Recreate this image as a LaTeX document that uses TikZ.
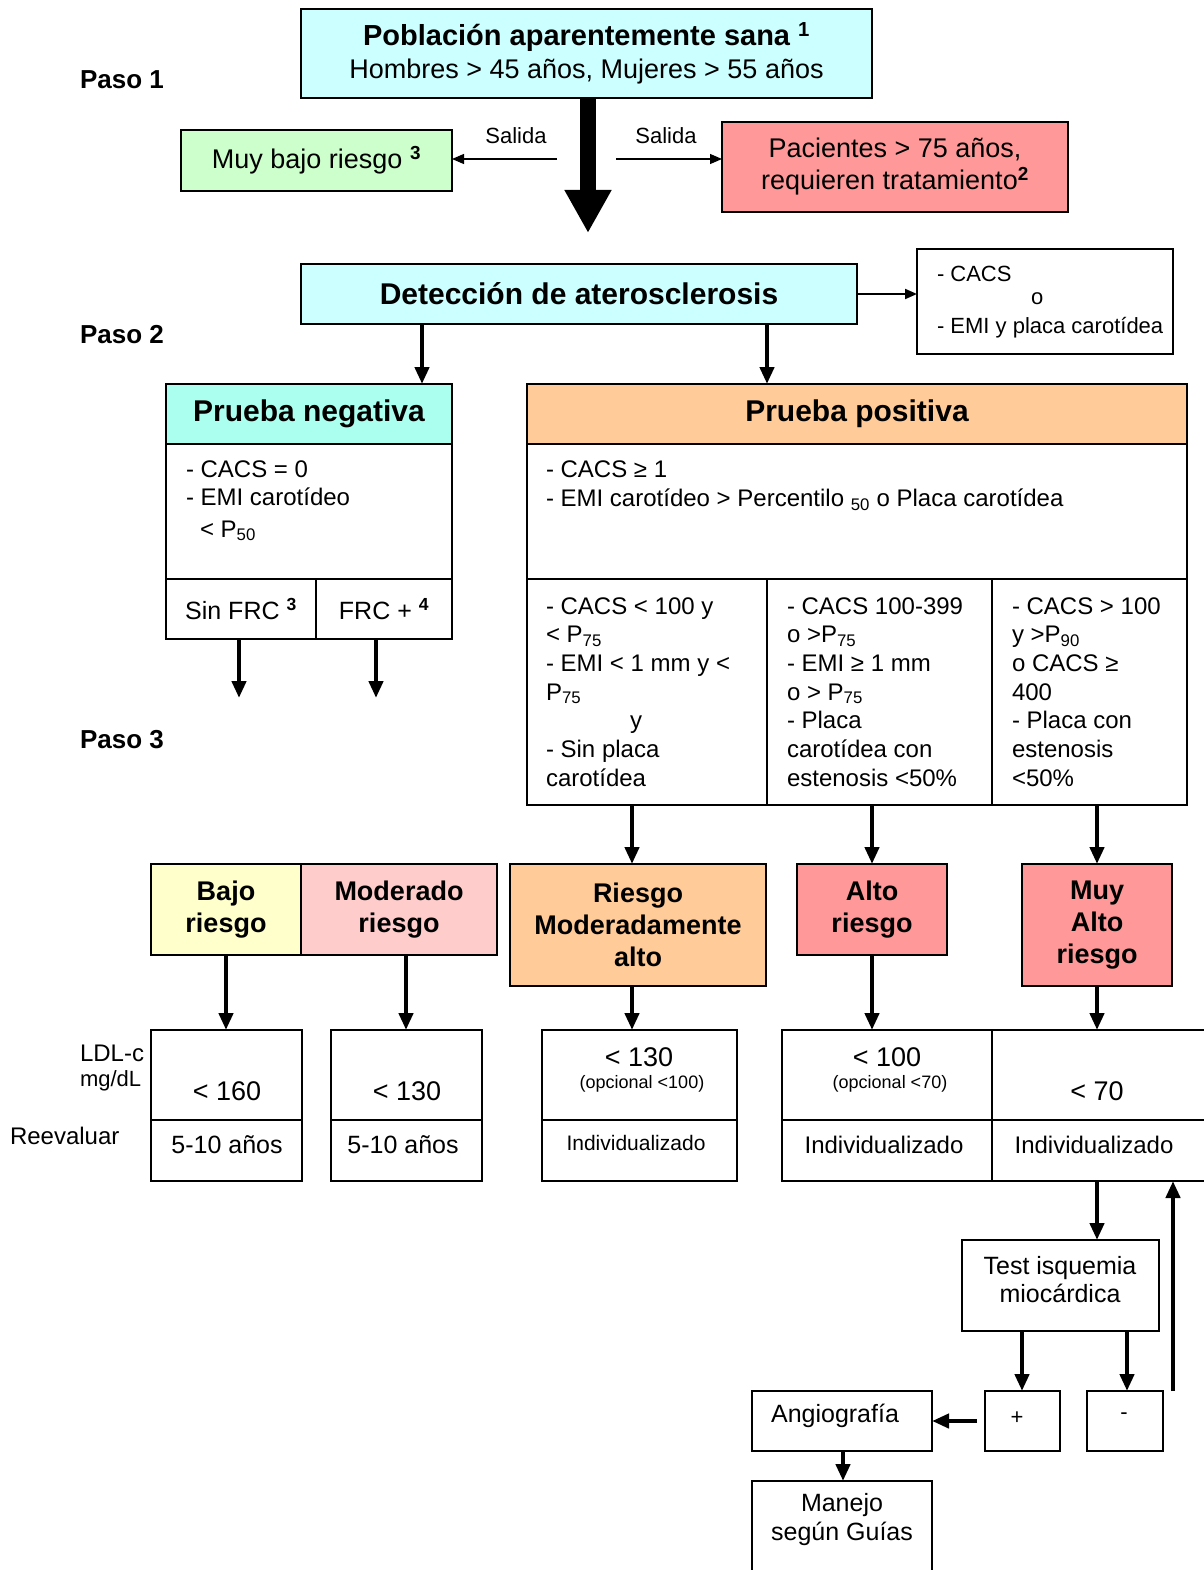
\documentclass[tikz,border=0pt]{standalone}
\usepackage{fontspec}
\setmainfont{Liberation Sans}
\usetikzlibrary{arrows.meta}
\newcommand{\myfs}[2]{\fontsize{#1}{#2}\selectfont}
\definecolor{cyanbg}{HTML}{CCFFFF}
\definecolor{greenbg}{HTML}{CCFFCC}
\definecolor{redbg}{HTML}{FF9999}
\definecolor{aquabg}{HTML}{AAFFEE}
\definecolor{orangebg}{HTML}{FFCC99}
\definecolor{yellowbg}{HTML}{FFFFCC}
\definecolor{pinkbg}{HTML}{FFCCCC}
\begin{document}
\begin{tikzpicture}[x=1pt,y=-1pt,
  box/.style={draw=black, line width=1.6pt, inner sep=0pt, outer sep=0pt, anchor=north west, align=center},
  arr/.style={line width=4.5pt, -{Triangle[length=17pt,width=14pt]}},
  tarr/.style={line width=1.2pt, -{Triangle[length=12pt,width=10pt]}},
  txt/.style={inner sep=0pt, outer sep=0pt},
  lbl/.style={inner sep=0pt, outer sep=0pt, anchor=base west},
  paso/.style={inner sep=0pt, outer sep=0pt, anchor=west, font=\bfseries\myfs{26}{30}},
  risk/.style={box, font=\bfseries\myfs{27}{32}},
]
\useasboundingbox (0,0) rectangle (1203,1570);

% helper x coordinates
\coordinate (bx) at (588,0);
\coordinate (x422) at (422,0);
\coordinate (x767) at (767,0);
\coordinate (x632) at (632,0);
\coordinate (x872) at (872,0);
\coordinate (x1097) at (1097,0);
\coordinate (x226) at (226,0);
\coordinate (x406) at (406,0);
\coordinate (x1022) at (1022,0);
\coordinate (x1127) at (1127,0);
\coordinate (x843) at (843,0);

% Step 1
\node[box, fill=cyanbg, minimum width=571pt, minimum height=89pt, font=\myfs{27}{33}] (pob) at (301,9)
  {{\bfseries\myfs{29}{33}Población aparentemente sana \textsuperscript{1}}\\Hombres > 45 años, Mujeres > 55 años};
\node[paso] (paso1) at (80,80) {Paso 1};
\node[box, fill=greenbg, minimum width=271pt, minimum height=61pt, font=\myfs{27}{32}] (mbr) at (181,130)
  {Muy bajo riesgo \textsuperscript{\bfseries 3}};
\node[box, fill=redbg, minimum width=346pt, minimum height=90pt, font=\myfs{27}{32}] (pac) at (722,122)
  {Pacientes > 75 años,\\requieren tratamiento\textsuperscript{\bfseries 2}};
\coordinate (bigend) at (588,233);
\draw[line width=16pt, -{Triangle[length=43pt,width=44pt]}] (pob.south -| bx) -- (bigend);
\coordinate (sl) at (557,159);
\coordinate (sr) at (616,159);
\draw[tarr] (sl) -- (sl -| mbr.east);
\draw[tarr] (sr) -- (sr -| pac.west);
\node[txt, font=\myfs{22}{26}] (sal1) at (516,136) {Salida};
\node[txt, font=\myfs{22}{26}] (sal2) at (666,136) {Salida};

% Step 2
\node[box, fill=cyanbg, minimum width=556pt, minimum height=60pt, font=\bfseries\myfs{30}{34}] (det) at (301,264)
  {Detección de aterosclerosis};
\node[box, minimum width=256pt, minimum height=105pt] (cacs) at (917,249) {};
\node[lbl, font=\myfs{22}{26}] (cacs1) at (937,281) {- CACS};
\node[lbl, font=\myfs{22}{26}] (cacs2) at (1031,304) {o};
\node[lbl, font=\myfs{22}{26}] (cacs3) at (937,333) {- EMI y placa carotídea};
\draw[line width=2pt, -{Triangle[length=12pt,width=10pt]}] (det.east) -- (det.east -| cacs.west);
\node[paso] (paso2) at (80,335) {Paso 2};

% Prueba negativa
\node[box, fill=aquabg, minimum width=286pt, minimum height=60pt, font=\bfseries\myfs{30}{34}] (neghead) at (166,384) {Prueba negativa};
\node[box, minimum width=286pt, minimum height=135pt] (negbody) at (166,444) {};
\node[box, minimum width=150pt, minimum height=60pt, font=\myfs{25}{30}] (sinfrc) at (166,579) {Sin FRC \textsuperscript{\bfseries 3}};
\node[box, minimum width=136pt, minimum height=60pt, font=\myfs{25}{30}] (frc) at (316,579) {FRC + \textsuperscript{\bfseries 4}};
\node[lbl, font=\myfs{24}{29}] (n1) at (186,477.6) {- CACS = 0};
\node[lbl, font=\myfs{24}{29}] (n2) at (186,505.6) {- EMI carotídeo};
\node[lbl, font=\myfs{24}{29}] (n3) at (200,537) {< P\textsubscript{50}};

% Prueba positiva
\node[box, fill=orangebg, minimum width=660pt, minimum height=60pt, font=\bfseries\myfs{30}{34}] (poshead) at (527,384) {Prueba positiva};
\node[box, minimum width=660pt, minimum height=135pt] (posbody) at (527,444) {};
\node[lbl, font=\myfs{24}{29}] (p1) at (546,477.6) {- CACS ≥ 1};
\node[lbl, font=\myfs{24}{29}] (p2) at (546,506.6) {- EMI carotídeo > Percentilo \textsubscript{50} o Placa carotídea};
\node[box, minimum width=240pt, minimum height=226pt] (c1) at (527,579) {};
\node[box, minimum width=225pt, minimum height=226pt] (c2) at (767,579) {};
\node[box, minimum width=195pt, minimum height=226pt] (c3) at (992,579) {};
\foreach \t [count=\i] in {{- CACS < 100 y},{< P\textsubscript{75}},{- EMI < 1 mm y <},{P\textsubscript{75}},{\hspace*{84pt}y},{- Sin placa},{carotídea}}
  \node[lbl, font=\myfs{24}{29}] (ca\i) at (546,{614+28.7*(\i-1)}) {\t};
\foreach \t [count=\i] in {{- CACS 100-399},{o >P\textsubscript{75}},{- EMI ≥ 1 mm},{o > P\textsubscript{75}},{- Placa},{carotídea con},{estenosis <50\%}}
  \node[lbl, font=\myfs{24}{29}] (cb\i) at (787,{614+28.7*(\i-1)}) {\t};
\foreach \t [count=\i] in {{- CACS > 100},{y >P\textsubscript{90}},{o CACS ≥},{400},{- Placa con},{estenosis},{<50\%}}
  \node[lbl, font=\myfs{24}{29}] (cc\i) at (1012,{614+28.7*(\i-1)}) {\t};

\draw[arr] (det.south -| x422) -- (neghead.north -| x422);
\draw[arr] (det.south -| x767) -- (poshead.north -| x767);
\coordinate (e1) at (239,698);
\coordinate (e2) at (376,698);
\draw[arr] (sinfrc.south -| e1) -- (e1);
\draw[arr] (frc.south -| e2) -- (e2);

% Step 3
\node[paso] (paso3) at (80,740) {Paso 3};
\node[risk, fill=yellowbg, minimum width=150pt, minimum height=91pt] (bajo) at (151,864) {Bajo\\riesgo};
\node[risk, fill=pinkbg, minimum width=196pt, minimum height=91pt] (mod) at (301,864) {Moderado\\riesgo};
\node[risk, fill=orangebg, minimum width=256pt, minimum height=122pt] (rma) at (510,864) {Riesgo\\Moderadamente\\alto};
\node[risk, fill=redbg, minimum width=150pt, minimum height=91pt] (alto) at (797,864) {Alto\\riesgo};
\node[risk, fill=redbg, minimum width=150pt, minimum height=122pt] (muy) at (1022,864) {Muy\\Alto\\riesgo};

\draw[arr] (c1.south -| x632) -- (rma.north -| x632);
\draw[arr] (c2.south -| x872) -- (alto.north -| x872);
\draw[arr] (c3.south -| x1097) -- (muy.north -| x1097);

% LDL boxes
\node[box, minimum width=151pt, minimum height=90pt] (l1t) at (151,1030) {};
\node[box, minimum width=151pt, minimum height=61pt] (l1b) at (151,1120) {};
\node[box, minimum width=151pt, minimum height=90pt] (l2t) at (331,1030) {};
\node[box, minimum width=151pt, minimum height=61pt] (l2b) at (331,1120) {};
\node[box, minimum width=195pt, minimum height=90pt] (l3t) at (542,1030) {};
\node[box, minimum width=195pt, minimum height=61pt] (l3b) at (542,1120) {};
\node[box, minimum width=210pt, minimum height=90pt] (l4t) at (782,1030) {};
\node[box, minimum width=210pt, minimum height=61pt] (l4b) at (782,1120) {};
\node[box, minimum width=214pt, minimum height=90pt] (l5t) at (992,1030) {};
\node[box, minimum width=214pt, minimum height=61pt] (l5b) at (992,1120) {};

\node[txt, font=\myfs{27}{32}] (v1) at (227,1091) {< 160};
\node[txt, font=\myfs{25}{30}] (r1) at (227,1145) {5-10 años};
\node[txt, font=\myfs{27}{32}] (v2) at (407,1091) {< 130};
\node[txt, font=\myfs{25}{30}] (r2) at (403,1145) {5-10 años};
\node[txt, font=\myfs{27}{32}] (v3) at (639,1057) {< 130};
\node[txt, font=\myfs{18}{22}] (o3) at (642,1084) {(opcional <100)};
\node[txt, font=\myfs{21}{25}] (r3) at (636,1143) {Individualizado};
\node[txt, font=\myfs{27}{32}] (v4) at (887,1057) {< 100};
\node[txt, font=\myfs{18}{22}] (o4) at (890,1084) {(opcional <70)};
\node[txt, font=\myfs{24}{28}] (r4) at (884,1145) {Individualizado};
\node[txt, font=\myfs{27}{32}] (v5) at (1097,1091) {< 70};
\node[txt, font=\myfs{24}{28}] (r5) at (1094,1145) {Individualizado};

\node[txt, anchor=west, font=\myfs{24}{28}] (ldl) at (80,1053) {LDL-c};
\node[txt, anchor=west, font=\myfs{22}{26}] (mgdl) at (80,1081) {mg/dL};
\node[txt, anchor=west, font=\myfs{24}{28}] (reev) at (10,1136) {Reevaluar};

\draw[arr] (bajo.south -| x226) -- (l1t.north -| x226);
\draw[arr] (mod.south -| x406) -- (l2t.north -| x406);
\draw[arr] (rma.south -| x632) -- (l3t.north -| x632);
\draw[arr] (alto.south -| x872) -- (l4t.north -| x872);
\draw[arr] (muy.south -| x1097) -- (l5t.north -| x1097);

% Bottom part
\node[box, minimum width=197pt, minimum height=91pt] (test) at (962,1240) {};
\node[txt, font=\myfs{25}{28}, align=center] (testt) at (1060,1280) {Test isquemia\\miocárdica};
\node[box, minimum width=75pt, minimum height=60pt] (plus) at (985,1391) {};
\node[txt, font=\myfs{22}{26}] (plust) at (1017,1418) {+};
\node[box, minimum width=76pt, minimum height=60pt] (minus) at (1087,1391) {};
\node[txt, font=\myfs{22}{26}] (minust) at (1124,1416) {-};
\node[box, minimum width=180pt, minimum height=60pt] (angio) at (752,1391) {};
\node[txt, font=\myfs{25}{30}] (angiot) at (835,1416) {Angiografía};
\node[box, minimum width=180pt, minimum height=95pt] (manejo) at (752,1481) {};
\node[txt, font=\myfs{25}{29}, align=center] (manejot) at (842,1520) {Manejo\\según Guías};

\draw[arr] (l5b.south -| x1097) -- (test.north -| x1097);
\draw[arr] (test.south -| x1022) -- (plus.north -| x1022);
\draw[arr] (test.south -| x1127) -- (minus.north -| x1127);
\coordinate (up) at (1173,1391);
\draw[arr] (up) -- (up |- l5b.south);
\coordinate (pl) at (977,1421);
\draw[arr] (pl) -- (pl -| angio.east);
\draw[arr] (angio.south -| x843) -- (manejo.north -| x843);
\end{tikzpicture}
\end{document}
